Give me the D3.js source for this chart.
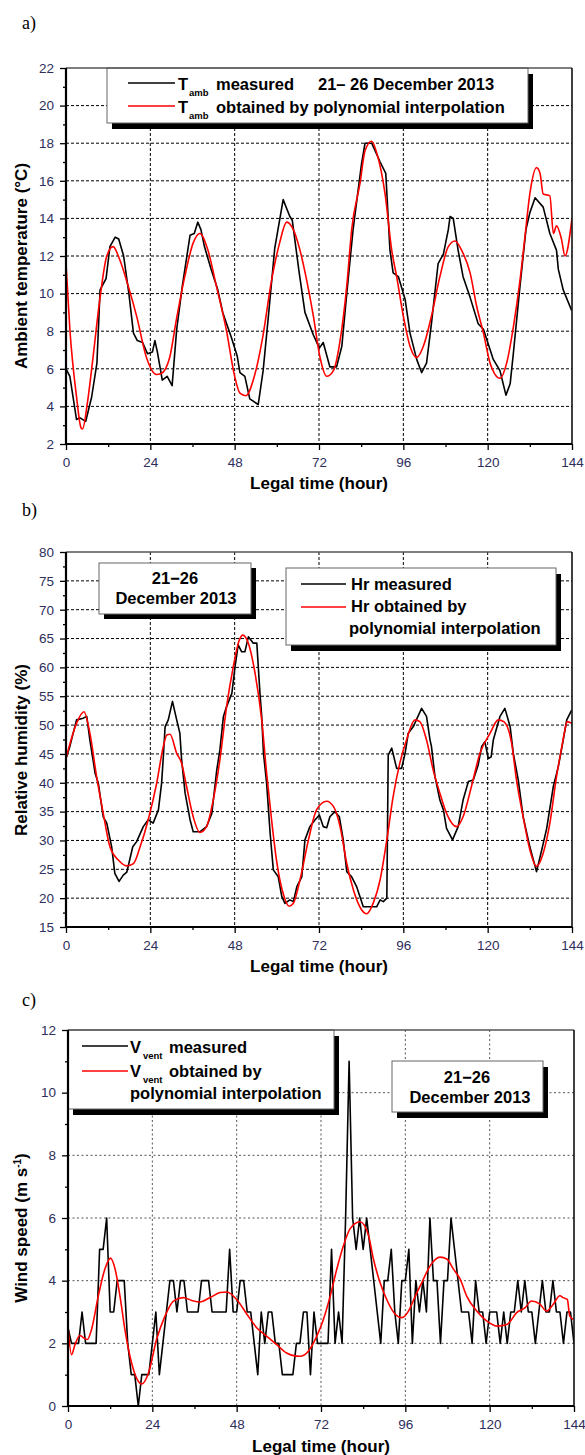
<!DOCTYPE html>
<html>
<head>
<meta charset="utf-8">
<script src="https://cdn.jsdelivr.net/npm/d3@7"></script>
<style>
  body { margin: 0; background: #fff; }
  svg { display: block; }
  text { font-family: "Liberation Sans", Arial, sans-serif; }
</style>
</head>
<body>
<svg id="chart" width="585" height="1455"></svg>
<script>
// ---- tick labels
const xTicks = [0, 24, 48, 72, 96, 120, 144];
const xMinor = [12, 36, 60, 84, 108, 132];
const tempTicks = [2, 4, 6, 8, 10, 12, 14, 16, 18, 20, 22];
const humTicks = [15, 20, 25, 30, 35, 40, 45, 50, 55, 60, 65, 70, 75, 80];
const windTicks = [0, 2, 4, 6, 8, 10, 12];

// ---- a) ambient temperature [hour, °C]
const tambMeasured = [[0,6.0],[1.1,5.6],[3,3.3],[3.9,3.4],[5.6,3.2],[7.3,4.5],[8.8,6.3],[9.7,10.2],[11.4,10.8],[12.5,12.5],[14,13.0],[15,12.9],[16.4,12.0],[17.9,10.0],[19.2,7.9],[20.3,7.5],[21.8,7.4],[23.2,6.8],[24.6,6.9],[25.3,7.5],[26,6.9],[27.4,5.4],[28.8,5.6],[30.2,5.1],[31.5,8.1],[33.1,10.4],[35.3,13.1],[36.5,13.2],[37.5,13.8],[38.4,13.4],[39.4,12.5],[41.3,11.3],[43.2,10.2],[44.6,9.0],[47,7.7],[48.7,6.7],[49.5,5.8],[50.9,5.6],[52.3,4.4],[54.7,4.1],[56.1,5.9],[57.5,8.6],[59.4,12.4],[61.8,15.0],[63.7,14.1],[64.4,13.9],[66.3,11.2],[68,9.0],[70.4,7.8],[72.1,7.1],[73.2,7.4],[75.1,6.1],[77,6.1],[78.5,7.2],[79.9,10.0],[81.7,13.4],[84.1,16.9],[85.1,18.0],[87,18.0],[89.4,17.0],[91,16.4],[92.2,12.3],[93.1,11.1],[94.6,10.9],[96.5,9.7],[97.9,7.9],[99.8,6.5],[101.2,5.8],[102.6,6.3],[104,8.4],[105.9,11.6],[107.4,12.1],[108.8,13.4],[109.3,14.1],[110.2,14.0],[111.6,12.3],[113,10.9],[115,9.8],[117.3,8.4],[118.8,8.1],[121.6,6.5],[123.5,5.9],[125.2,4.6],[126.4,5.2],[127.3,6.8],[129.2,10.4],[130.9,13.4],[132,14.3],[133.5,15.1],[135.8,14.6],[137.7,13.2],[139.6,12.3],[140.1,11.3],[141.5,10.2],[143.9,9.1]];
const tambFit = [[0,11.6],[1.1,8.1],[3,4.5],[4.3,2.85],[4.7,2.8],[6.1,4.2],[7.5,6.3],[9.7,9.8],[11.6,12.0],[13.4,12.5],[15.3,11.8],[17.7,10.4],[20.1,8.8],[22.9,6.6],[25.7,5.7],[27.1,5.75],[29.5,6.6],[31.4,8.6],[33.8,10.9],[36.2,12.7],[38.1,13.2],[40.4,12.3],[42.8,10.4],[45.6,8.1],[48,5.6],[49.5,4.7],[51.2,4.57],[53.6,5.6],[56,7.7],[58.4,10.6],[60.8,12.7],[62.8,13.8],[64.7,13.4],[66.6,12.3],[68.5,10.7],[70.4,8.8],[72.3,6.6],[74.2,5.6],[76.1,5.9],[78,7.5],[79.9,10.4],[81.3,13.4],[83.7,15.9],[85.1,17.6],[87,18.1],[88.4,17.5],[90.8,15.3],[92.7,12.3],[94.1,10.9],[96,8.8],[97.9,7.2],[99.8,6.6],[101.7,7.2],[104,8.8],[106.4,10.9],[108.8,12.5],[110.7,12.8],[112.6,12.3],[115,11.1],[116.9,9.3],[118.8,7.9],[120.7,6.3],[123.5,5.5],[125.4,6.3],[127.3,8.2],[129.2,10.7],[130.6,13.0],[132,15.3],[133.9,16.7],[134.9,16.4],[135.8,15.3],[137.7,15.2],[138.7,13.2],[139.6,13.6],[141,12.9],[142,12.0],[144,14.0]];

// ---- b) relative humidity [hour, %]
const hrMeasured = [[0,44.2],[1.1,46.3],[3,50.9],[4.9,51.2],[5.9,51.5],[6.8,47.4],[8.3,41.6],[9.2,39.9],[10.6,34.1],[11.6,33],[13,28.9],[13.9,24.3],[15.1,22.9],[16.3,24],[17.3,24.5],[19,28.9],[20.1,29.8],[22,32.4],[23.4,33.6],[24.8,33],[26.3,35.3],[27.2,39.9],[27.7,44.5],[28.2,49.7],[29.1,50.9],[30.3,54.1],[31.5,50.9],[32.4,48.6],[32.9,44],[33.9,38.2],[35.3,33.6],[36.2,31.5],[38.1,31.5],[40,32.4],[41.5,34.7],[42.9,42.2],[43.8,45.7],[44.8,51.5],[45.7,53.2],[47.2,55.5],[48.1,60.1],[49,63.9],[50,62.7],[50.9,62.7],[51.9,65.3],[53.3,64.2],[54.3,64.2],[55.2,55.5],[55.7,51.5],[56.2,45.1],[57.1,39.9],[58.1,31.2],[59,24.9],[60.4,23.7],[61.4,20.3],[62.3,19.1],[63.7,19.7],[64.7,19.4],[65.7,22],[67.1,23.7],[68,30.1],[69.4,32.4],[70.9,33.6],[72.1,34.4],[73.2,32.4],[74.2,32.2],[75.1,34.1],[76.5,35],[77.8,34.1],[78.9,30.1],[79.9,24.6],[81.3,23.7],[82.7,22],[84.6,18.5],[86.5,18.5],[88.4,18.5],[89.4,19.7],[90.3,19.4],[91.3,20],[91.4,26],[91.7,44.8],[92.7,46],[94.1,42.5],[95.5,42.5],[96.5,45.1],[97.4,48.6],[98.8,49.7],[101.2,52.9],[102.6,51.5],[103.6,47.4],[104,46.3],[105,41.1],[106.4,37],[107.4,35.3],[108.3,32.1],[110,30.1],[111.6,32.4],[113,37],[114.5,40.2],[115.9,40.5],[117.3,43.1],[118.3,46.3],[119.2,47.1],[120.2,44.2],[121,44.5],[121.6,47.4],[123.5,51.5],[124.9,52.9],[126.4,49.7],[127.3,45.1],[128.7,40.5],[130.1,34.1],[132,28.9],[133.9,24.6],[135.4,28.4],[136.8,32.1],[138.7,39.4],[140.1,42.8],[141.5,47.4],[142.5,50.9],[143.9,52.6]];
const hrFit = [[0,44.2],[3,50.3],[5.1,52.3],[6.8,48.6],[8.7,41.1],[10.6,34.7],[12.5,28.9],[14.9,26.6],[17.3,25.6],[19.2,26],[21.1,28.9],[23.4,33.6],[25.8,39.9],[27.7,46.3],[28.7,48.3],[29.6,48.4],[31.5,45.1],[32.9,43.4],[34.3,39.4],[36.2,34.1],[38.1,31.4],[40,32.4],[41.9,37],[43.8,44],[45.7,53.2],[47.6,60.1],[49.3,64.7],[50.3,65.6],[51.9,64.2],[53.8,59],[55.7,50.9],[57.1,41.6],[58.5,33.6],[59.9,26.6],[61.8,20.8],[63.5,18.6],[64.7,19.1],[66.6,23.2],[69,30.1],[71.3,35.3],[74.2,36.8],[76.1,35.9],[78,32.4],[79.9,26],[81.8,21.4],[84.1,18],[85.6,17.3],[87.4,19.1],[89.4,23.2],[91.3,30.1],[93.1,37.6],[95,43.4],[96.9,47.4],[99.3,50.9],[100.7,50.6],[102.6,47.4],[104.5,42.2],[106.4,38.2],[108.3,34.7],[111.2,32.4],[113,34.1],[115.4,39.4],[117.8,45.1],[120.7,48.6],[123,50.9],[124.6,50.6],[126.8,46.9],[128.2,40.5],[130.1,34.1],[132,28.4],[133.9,25.5],[135.8,27.8],[137.7,33],[139.6,41.1],[141.3,46.9],[142,49.2],[142.6,50.6],[144,50.3]];

// ---- c) wind speed, one measured value per hour 0..144 [m/s]
const windMeasured = [2.5,2,2,2,3,2,2,2,2,5,5,6,3,3,4,4,4,2,1,1,0,1,1,1,2,3,1,2,3,4,4,3,4,4,3,3,3,3,4,4,4,3,3,3,3,3,5,3,3,4,4,3,3,2,1,3,2,3,3,2,2,1,1,1,1,2,2,3,3,1,3,2,2,2,2,5,2,3,2,6,11,6,5,6,5,6,5,4,3,2,4,4,5,3,2,4,4,5,2,4,3,4,3,6,4,4,2,4,4,6,5,4,3,3,3,2,4,3,3,2,3,3,3,2,3,2,3,3,4,3,4,3,3,2,3,4,3,3,4,3,3,2,3,3,2];
const windFit = [[0,2.55],[1,1.64],[2,1.96],[3.4,2.25],[4.4,2.18],[5.5,2.12],[6.7,2.44],[8.6,3.5],[10.5,4.37],[12.1,4.72],[13.4,4.37],[14.8,3.5],[16.2,2.44],[18.1,1.37],[21,0.7],[22.9,1.05],[25.2,2.12],[27.6,2.87],[30,3.35],[32.8,3.46],[35.2,3.37],[37.6,3.32],[40.4,3.46],[43.3,3.62],[45.2,3.64],[48,3.4],[50.9,2.93],[53.7,2.5],[56.5,2.23],[59.4,1.96],[62.2,1.69],[64.5,1.6],[66,1.59],[68.4,1.75],[70.8,2.23],[72.7,2.77],[74.6,3.5],[76.5,4.37],[78.4,5.12],[80.3,5.66],[83.1,5.88],[85.5,5.45],[86.9,4.7],[88.8,3.94],[90.7,3.4],[93.1,2.93],[95,2.82],[96.9,3.03],[98.8,3.5],[100.7,3.94],[103.1,4.48],[105.9,4.75],[107.8,4.69],[109.7,4.37],[111.6,4.05],[113.5,3.5],[116.3,3.03],[119.2,2.71],[122,2.55],[124.9,2.6],[127.7,2.98],[130.1,3.14],[131.9,3.35],[134.3,3.25],[136.2,3.03],[138.1,3.25],[140,3.52],[140.9,3.46],[142.1,3.4],[142.8,2.87],[143.8,2.77]];

const svg = d3.select("#chart");
const labelColor = "#2e2e5c";

function panel(o) {
  const x = d3.scaleLinear().domain([0, 144]).range([o.left, o.right]);
  const y = d3.scaleLinear().domain(d3.extent(o.yTicks)).range([o.bottom, o.top]);
  const g = svg.append("g");

  // grid
  g.append("g").selectAll("line").data(xTicks.slice(1, -1)).join("line")
    .attr("x1", d => x(d)).attr("x2", d => x(d)).attr("y1", o.top).attr("y2", o.bottom)
    .attr("stroke", o.gridColor).attr("stroke-dasharray", o.dash);
  g.append("g").selectAll("line").data(o.yTicks.slice(1, -1)).join("line")
    .attr("x1", o.left).attr("x2", o.right).attr("y1", d => y(d)).attr("y2", d => y(d))
    .attr("stroke", o.gridColor).attr("stroke-dasharray", o.dash);

  // data
  svg.append("clipPath").attr("id", "clip" + o.name).append("rect")
    .attr("x", o.left).attr("y", o.top).attr("width", o.right - o.left).attr("height", o.bottom - o.top);
  const lines = g.append("g").attr("clip-path", `url(#clip${o.name})`);
  const lineM = o.hourly ? d3.line().x((d, i) => x(i)).y(d => y(d))
                         : d3.line().x(d => x(d[0])).y(d => y(d[1]));
  lines.append("path").datum(o.measured).attr("d", lineM)
    .attr("fill", "none").attr("stroke", "#000").attr("stroke-width", o.lw).attr("stroke-linejoin", "round");
  const lineF = d3.line().x(d => x(d[0])).y(d => y(d[1])).curve(d3.curveMonotoneX);
  lines.append("path").datum(o.fit).attr("d", lineF)
    .attr("fill", "none").attr("stroke", "#ff0000").attr("stroke-width", o.lw);

  // axes
  const yMinor = d3.range(o.yTicks[0], o.yTicks[o.yTicks.length - 1], o.minor).filter(v => !o.yTicks.includes(v));
  const ya = g.append("g").attr("transform", `translate(${o.left},0)`)
    .call(d3.axisLeft(y).tickValues(o.yTicks).tickSize(6).tickPadding(6));
  g.append("g").attr("transform", `translate(${o.left},0)`)
    .call(d3.axisLeft(y).tickValues(yMinor).tickSize(3).tickFormat(""))
    .select(".domain").remove();
  const xa = g.append("g").attr("transform", `translate(0,${o.bottom})`)
    .call(d3.axisBottom(x).tickValues(xTicks).tickSize(6).tickPadding(7));
  g.append("g").attr("transform", `translate(0,${o.bottom})`)
    .call(d3.axisBottom(x).tickValues(xMinor).tickSize(3).tickFormat(""))
    .select(".domain").remove();
  [ya, xa].forEach(a => {
    a.select(".domain").remove();
    a.attr("font-family", null).attr("font-size", null);
    a.selectAll("text").attr("fill", labelColor).style("font-size", "13.5px");
  });
  g.selectAll(".tick line").attr("stroke", "#000").attr("stroke-width", 1.3);

  return { x, y, g };
}

function frame(o) {
  svg.append("line").attr("x1", o.left).attr("x2", o.right).attr("y1", o.top).attr("y2", o.top)
    .attr("stroke", "#555").attr("stroke-width", 1.3);
  svg.append("line").attr("x1", o.right).attr("x2", o.right).attr("y1", o.top).attr("y2", o.bottom)
    .attr("stroke", "#111").attr("stroke-width", 1.6);
  svg.append("line").attr("x1", o.left).attr("x2", o.left).attr("y1", o.top).attr("y2", o.bottom + 1)
    .attr("stroke", "#000").attr("stroke-width", 2.2);
  svg.append("line").attr("x1", o.left - 1).attr("x2", o.right).attr("y1", o.bottom).attr("y2", o.bottom)
    .attr("stroke", "#000").attr("stroke-width", 2.2);
}

function box(x0, y0, x1, y1, dx, dy) {
  svg.append("rect").attr("x", x0 + dx).attr("y", y0 + dy).attr("width", x1 - x0).attr("height", y1 - y0).attr("fill", "#000");
  svg.append("rect").attr("x", x0).attr("y", y0).attr("width", x1 - x0).attr("height", y1 - y0)
    .attr("fill", "#fff").attr("stroke", "#666").attr("stroke-width", 1);
}

function sample(x0, x1, y, color) {
  svg.append("line").attr("x1", x0).attr("x2", x1).attr("y1", y).attr("y2", y)
    .attr("stroke", color).attr("stroke-width", 1.5);
}

function label(x, y, str, opts = {}) {
  return svg.append("text").attr("x", x).attr("y", y)
    .attr("font-size", opts.size || 16.5).attr("font-weight", opts.weight || "bold")
    .attr("text-anchor", opts.anchor || "start").attr("fill", "#000").text(str);
}

function yTitle(cx, cy, str) {
  return svg.append("text").attr("transform", `translate(${cx},${cy}) rotate(-90)`)
    .attr("text-anchor", "middle").attr("font-size", 17).attr("font-weight", "bold").text(str);
}

function panelLetter(x, y, str) {
  svg.append("text").attr("x", x).attr("y", y).attr("font-size", 18)
    .style("font-family", "'Liberation Serif', 'DejaVu Serif', serif").text(str);
}

// ---------------- a)
const A = { name: "a", left: 66, right: 572, top: 68, bottom: 444, yTicks: tempTicks, minor: 1,
  measured: tambMeasured, fit: tambFit, gridColor: "#000", dash: "3,2", lw: 1.6 };
panel(A);
box(107, 68, 528, 123, 5, 6);
frame(A);
sample(128, 175, 83, "#000");
sample(128, 175, 106, "#ff0000");
label(178, 90, "T");
label(189, 96, "amb", { size: 9.5 });
label(216, 90, "measured");
label(318, 90, "21– 26 December 2013");
label(178, 113, "T");
label(189, 119, "amb", { size: 9.5 });
label(216, 113, "obtained by polynomial interpolation");
yTitle(27, 266, "Ambient temperature (°C)");
label(319, 489, "Legal time (hour)", { anchor: "middle", size: 17 });
panelLetter(22, 29, "a)");

// ---------------- b)
const B = { name: "b", left: 66, right: 572, top: 552, bottom: 927, yTicks: humTicks, minor: 2.5,
  measured: hrMeasured, fit: hrFit, gridColor: "#000", dash: "3,2", lw: 1.6 };
panel(B);
frame(B);
box(99, 563, 251, 614, 5, 5);
label(175, 584, "21−26", { anchor: "middle" });
label(176, 604, "December 2013", { anchor: "middle" });
box(286, 568, 556, 645, 5, 6);
sample(301, 346, 584, "#000");
sample(301, 346, 607, "#ff0000");
label(351, 590, "Hr measured");
label(351, 612, "Hr obtained by");
label(349, 634, "polynomial interpolation");
yTitle(27, 750, "Relative humidity (%)");
label(319, 972, "Legal time (hour)", { anchor: "middle", size: 17 });
panelLetter(22, 516, "b)");

// ---------------- c)
const C = { name: "c", left: 68, right: 574, top: 1030, bottom: 1406, yTicks: windTicks, minor: 1,
  measured: windMeasured, hourly: true, fit: windFit, gridColor: "#555", dash: "2,2.5", lw: 1.6 };
panel(C);
box(68, 1030, 334, 1109, 5, 6);
box(392, 1061, 543, 1112, 5, 6);
frame(C);
sample(82, 128, 1046, "#000");
sample(82, 128, 1071, "#ff0000");
label(130, 1053, "V");
label(143, 1059, "vent", { size: 9.5 });
label(169, 1053, "measured");
label(130, 1077, "V");
label(143, 1083, "vent", { size: 9.5 });
label(169, 1077, "obtained by");
label(130, 1099, "polynomial interpolation");
label(467, 1083, "21−26", { anchor: "middle" });
label(470, 1103, "December 2013", { anchor: "middle" });
const wt = yTitle(27, 1228, "Wind speed (m s");
wt.append("tspan").attr("font-size", 10).attr("dy", -6).text("-1");
wt.append("tspan").attr("dy", 6).text(")");
label(321, 1452, "Legal time (hour)", { anchor: "middle", size: 17 });
panelLetter(22, 1006, "c)");
</script>
</body>
</html>
